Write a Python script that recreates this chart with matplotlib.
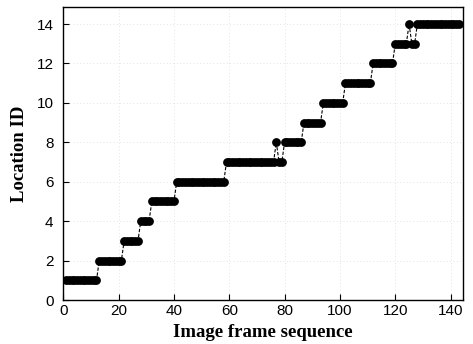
import matplotlib
matplotlib.use("Agg")
import matplotlib.pyplot as plt
import numpy as np

# Location ID per image frame
level_runs = [
    (1, 12, 1), (13, 21, 2), (22, 27, 3), (28, 31, 4), (32, 40, 5),
    (41, 58, 6), (59, 76, 7), (77, 77, 8), (78, 79, 7), (80, 86, 8),
    (87, 93, 9), (94, 101, 10), (102, 111, 11), (112, 119, 12),
    (120, 124, 13), (125, 125, 14), (126, 127, 13), (128, 143, 14),
]
frames = []
location_id = []
for start, end, lvl in level_runs:
    for f in range(start, end + 1):
        frames.append(f)
        location_id.append(lvl)

x_ticks = [0, 20, 40, 60, 80, 100, 120, 140]
y_ticks = [0, 2, 4, 6, 8, 10, 12, 14]

fig = plt.figure(figsize=(4.73, 3.44), dpi=100)
ax = fig.add_axes([0.1338, 0.1279, 0.8457, 0.8526])

ax.plot(frames, location_id, color="black", linestyle=(0, (3, 1.5)), linewidth=0.8,
        marker="o", markersize=5.3, markerfacecolor="black", markeredgecolor="black",
        clip_on=True, zorder=3)

ax.set_xlim(0, 144.6)
ax.set_ylim(0, 14.88)
ax.set_xticks(x_ticks)
ax.set_yticks(y_ticks)
ax.grid(True, color="#dadada", linestyle=(0, (1, 3)), linewidth=0.6)
ax.tick_params(direction="in", length=4.5, width=0.8, labelsize=11)
ax.tick_params(axis="y", pad=7)
ax.tick_params(axis="x", pad=3)
for lab in ax.get_xticklabels() + ax.get_yticklabels():
    lab.set_fontfamily("Liberation Sans")
for s in ax.spines.values():
    s.set_linewidth(1.0)

ax.set_xlabel("Image frame sequence", fontfamily="Liberation Serif", fontweight="bold",
              fontsize=13.5, labelpad=4)
ax.set_ylabel("Location ID", fontfamily="Liberation Serif", fontweight="bold",
              fontsize=13.5, labelpad=6)

fig.savefig("out.png", dpi=100)
